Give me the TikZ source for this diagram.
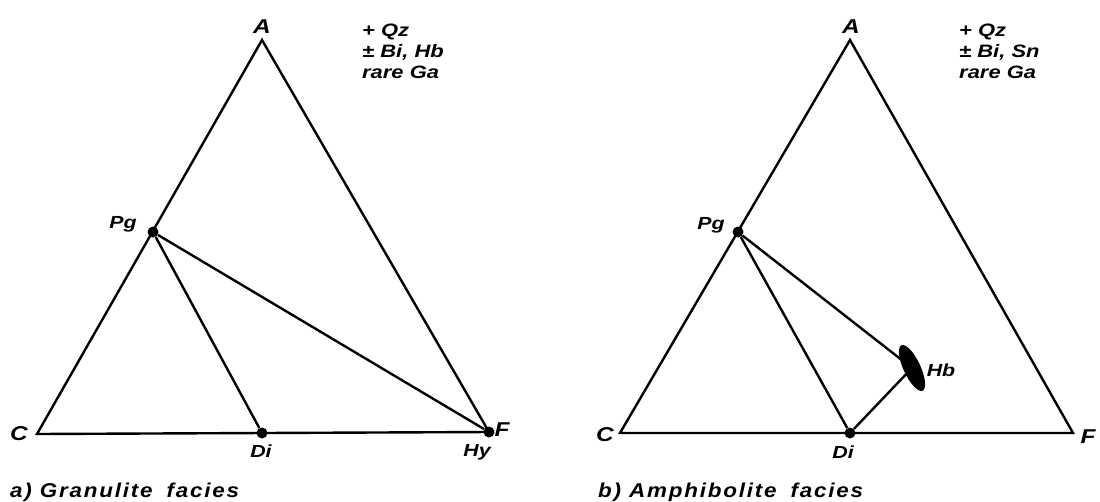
\documentclass[tikz,border=0pt]{standalone}
\usepackage{fontspec}
\setmainfont{Liberation Sans}[FakeStretch=1.12]
\newfontfamily\widefont{Liberation Sans}[FakeStretch=1.22]
\usetikzlibrary{shapes.geometric}
\tikzset{
  edge/.style={line width=2.4pt, line join=miter},
  dot/.style={circle, fill=black, inner sep=0pt, minimum size=11pt},
  vlab/.style={font=\widefont\fontsize{20}{22}\selectfont\bfseries\itshape},
  slab/.style={font=\widefont\fontsize{17.5}{19}\selectfont\bfseries\itshape},
  note/.style={font=\widefont\fontsize{18}{21}\selectfont\bfseries\itshape, align=left, anchor=north west, inner sep=0pt},
  capt/.style={font=\fontsize{20}{22}\selectfont\bfseries\itshape\addfontfeature{LetterSpace=9}, anchor=base west, inner sep=0pt}
}
\begin{document}
\begin{tikzpicture}[x=1pt,y=-1pt]
\useasboundingbox (0,0) rectangle (1100,501);
% ---- left diagram
\coordinate (a1) at (262,40);
\coordinate (c1) at (37,434);
\node[dot] (f1) at (489,432) {};
\node[dot] (pg1) at (153,232) {};
\node[dot] (di1) at (262,433) {};
\draw[edge] (a1) -- (c1) -- (f1.center) -- cycle;
\draw[edge] (pg1) -- (di1);
\draw[edge] (pg1) -- (f1);
\node[vlab] (la1) at (262,27) {A};
\node[vlab] (lc1) at (19,434) {C};
\node[vlab] (lf1) at (502,430) {F};
\node[slab] (lpg1) at (123,224) {Pg};
\node[slab] (ldi1) at (261,451) {Di};
\node[slab] (lhy1) at (477,452) {Hy};
\node[note] (n1) at (362,24) {+ Qz\\± Bi, Hb\\rare Ga};
\node[capt] (cap1) at (10,497) {a) Granulite\hspace{6pt} facies};
% ---- right diagram
\coordinate (a2) at (850,40);
\coordinate (c2) at (620,433);
\coordinate (f2) at (1073,433);
\node[dot] (pg2) at (738,232) {};
\node[dot] (di2) at (850,433) {};
\node[ellipse, fill=black, minimum width=50pt, minimum height=17pt, inner sep=0pt, rotate=-65] (hb2) at (912,368) {};
\draw[edge] (a2) -- (c2) -- (f2) -- cycle;
\draw[edge] (pg2) -- (di2);
\draw[edge] (pg2) -- (hb2.center);
\draw[edge] (di2) -- (hb2.center);
\node[vlab] (la2) at (851,27) {A};
\node[vlab] (lc2) at (605,435) {C};
\node[vlab] (lf2) at (1088,437) {F};
\node[slab] (lpg2) at (711,225) {Pg};
\node[slab] (ldi2) at (843,452) {Di};
\node[slab] (lhb2) at (941,370) {Hb};
\node[note] (n2) at (959,24) {+ Qz\\± Bi, Sn\\rare Ga};
\node[capt] (cap2) at (598,497) {b) Amphibolite\hspace{6pt} facies};
\end{tikzpicture}
\end{document}
